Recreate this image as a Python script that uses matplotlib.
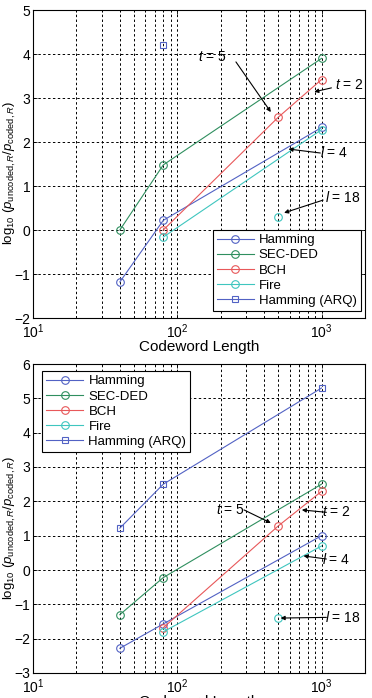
import matplotlib
matplotlib.use("Agg")
import matplotlib.pyplot as plt
from matplotlib.ticker import LogLocator, NullFormatter, FixedLocator

plt.rcParams['font.family'] = ['Liberation Sans', 'DejaVu Sans']
plt.rcParams['mathtext.fontset'] = 'custom'
plt.rcParams['mathtext.rm'] = 'Liberation Sans'
plt.rcParams['mathtext.it'] = 'Liberation Sans:italic'
plt.rcParams['mathtext.bf'] = 'Liberation Sans:bold'

# ---------------- data ----------------
series_names = ["Hamming", "SEC-DED", "BCH", "Fire", "Hamming (ARQ)"]
series_colors = ["#5262c4", "#2f8f5f", "#e8585a", "#3fc6bf", "#5262c4"]
series_markers = ["o", "o", "o", "o", "s"]

# top panel
top_hamming_x = [40, 80, 1000]
top_hamming_y = [-1.18, 0.22, 2.33]
top_secded_x = [40, 80, 1000]
top_secded_y = [0.0, 1.48, 3.9]
top_bch_x = [80, 500, 1000]
top_bch_y = [0.0, 2.56, 3.42]
top_fire_x = [80, 1000]
top_fire_y = [-0.16, 2.28]
top_fire_l18_x = [500]
top_fire_l18_y = [0.3]
top_arq_x = [80]
top_arq_y = [4.2]

# bottom panel
bot_hamming_x = [40, 80, 1000]
bot_hamming_y = [-2.28, -1.57, 1.0]
bot_secded_x = [40, 80, 1000]
bot_secded_y = [-1.3, -0.22, 2.5]
bot_bch_x = [80, 500, 1000]
bot_bch_y = [-1.68, 1.28, 2.29]
bot_fire_x = [80, 1000]
bot_fire_y = [-1.8, 0.7]
bot_fire_l18_x = [500]
bot_fire_l18_y = [-1.4]
bot_arq_x = [40, 80, 1000]
bot_arq_y = [1.22, 2.5, 5.3]

top_ylim = (-2, 5)
bot_ylim = (-3, 6)
xlim = (10, 2000)

top_labels = [("$t$ = 5", (174, 3.93), (255, 3.82), (445, 2.68)),
              ("$t$ = 2", (1560, 3.3), (1170, 3.23), (890, 3.14)),
              ("$l$ = 4", (1230, 1.77), (980, 1.75), (590, 1.84)),
              ("$l$ = 18", (1400, 0.73), (1025, 0.68), (550, 0.39))]
bot_labels = [("$t$ = 5", (232, 1.75), (290, 1.75), (445, 1.37)),
              ("$t$ = 2", (1270, 1.69), (1080, 1.68), (730, 1.75)),
              ("$l$ = 4", (1270, 0.32), (1080, 0.32), (750, 0.41)),
              ("$l$ = 18", (1400, -1.37), (1080, -1.38), (520, -1.4))]

fig = plt.figure(figsize=(3.72, 6.98), dpi=100)
ax1 = fig.add_axes([33/372, 1-318/698, 332/372, 308/698])
ax2 = fig.add_axes([33/372, 1-673/698, 332/372, 309/698])

def draw(ax, data, ylim, labels, legend_loc, legend_bbox):
    handles = []
    for (xs, ys), name, c, m in zip(data[:5], series_names, series_colors, series_markers):
        h, = ax.plot(xs, ys, color=c, marker=m, markersize=5.5 if m == 'o' else 5,
                     markerfacecolor='none', markeredgecolor=c, mew=0.8, lw=0.8,
                     label=name)
        handles.append(h)
    fx, fy = data[5]
    ax.plot(fx, fy, color=series_colors[3], marker='o', markersize=5.5,
            markerfacecolor='none', mew=0.8, lw=0)
    ax.set_xscale('log')
    ax.set_xlim(*xlim)
    ax.set_ylim(*ylim)
    ax.yaxis.set_major_locator(FixedLocator(list(range(ylim[0], ylim[1] + 1))))
    ax.xaxis.set_major_locator(LogLocator(base=10, numticks=10))
    ax.xaxis.set_minor_locator(LogLocator(base=10, subs=range(2, 10), numticks=20))
    ax.xaxis.set_minor_formatter(NullFormatter())
    ax.grid(True, which='both', axis='x', color='k', ls=(0, (2.5, 2.5)), lw=0.7)
    ax.grid(True, which='major', axis='y', color='k', ls=(0, (2.5, 2.5)), lw=0.7)
    ax.tick_params(which='both', direction='in', labelsize=10, top=True, right=True,
                   length=3, width=0.6, pad=2)
    ax.tick_params(axis='x', which='major', pad=3.5)
    ax.tick_params(which='minor', length=1.5)
    for s in ax.spines.values():
        s.set_linewidth(0.8)
    ax.set_xlabel('Codeword Length', fontsize=11, labelpad=-1)
    ax.set_ylabel(r'$\log_{10}\,(p_{\mathrm{uncoded},R}/p_{\mathrm{coded},R})$',
                  fontsize=9.5)
    ax.yaxis.set_label_coords(-0.045, 0.47)
    for txt, tpos, start, end in labels:
        ax.annotate('', xy=end, xytext=start,
                    arrowprops=dict(arrowstyle='-|>', color='k', lw=0.8,
                                    mutation_scale=6, shrinkA=0, shrinkB=0))
        ax.text(tpos[0], tpos[1], txt, fontsize=10, ha='center', va='center')
    leg = ax.legend(handles=handles, loc=legend_loc, bbox_to_anchor=legend_bbox,
                    fontsize=9.5, frameon=True, fancybox=False, edgecolor='k',
                    framealpha=1, borderpad=0.3, labelspacing=0.22,
                    handlelength=2.8, handletextpad=0.4, borderaxespad=0.2)
    leg.get_frame().set_linewidth(0.8)

draw(ax1, [(top_hamming_x, top_hamming_y), (top_secded_x, top_secded_y),
           (top_bch_x, top_bch_y), (top_fire_x, top_fire_y), (top_arq_x, top_arq_y),
           (top_fire_l18_x, top_fire_l18_y)],
     top_ylim, top_labels, 'lower right', (0.995, 0.015))
draw(ax2, [(bot_hamming_x, bot_hamming_y), (bot_secded_x, bot_secded_y),
           (bot_bch_x, bot_bch_y), (bot_fire_x, bot_fire_y), (bot_arq_x, bot_arq_y),
           (bot_fire_l18_x, bot_fire_l18_y)],
     bot_ylim, bot_labels, 'upper left', (0.02, 0.985))

fig.savefig('out.png', dpi=100)
